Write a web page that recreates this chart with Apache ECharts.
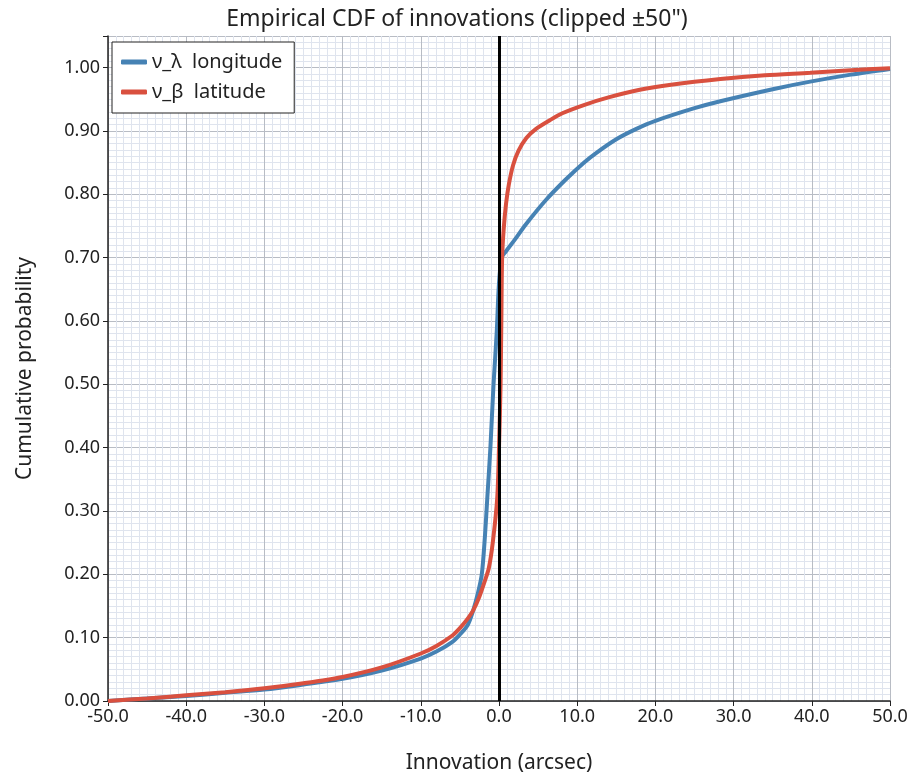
<!DOCTYPE html>
<html>
<head>
<meta charset="utf-8">
<script src="https://cdn.jsdelivr.net/npm/echarts@6/dist/echarts.min.js"></script>
<style>
  html, body { margin: 0; padding: 0; background: #fff; }
  #chart { width: 914px; height: 779px; }
</style>
</head>
<body>
<div id="chart"></div>
<script>
// Empirical CDF of longitude / latitude innovations (arcsec)
const longX = [-50, -45, -40, -35, -30, -25, -20, -15, -10, -8, -6, -5, -4, -3.3, -2.7, -2.2, -1.8, -1.5, -1.1, -0.7, -0.3, 0, 0.35, 0.83, 2, 3.4, 6, 8.5, 10.85, 12.5, 15, 17.5, 20, 25, 28.3, 35, 39.8, 45, 50];
const longP = [0, 0.004, 0.008, 0.013, 0.018, 0.026, 0.035, 0.048, 0.067, 0.078, 0.093, 0.105, 0.12, 0.143, 0.17, 0.2, 0.26, 0.32, 0.4, 0.5, 0.58, 0.66, 0.70, 0.709, 0.728, 0.752, 0.791, 0.823, 0.850, 0.866, 0.887, 0.903, 0.916, 0.936, 0.947, 0.966, 0.978, 0.989, 0.998];

const latX = [-50, -45, -40, -35, -30, -25, -20, -15, -10, -8, -6, -5, -4, -3.3, -2.5, -1.8, -1.3, -0.8, -0.23, 0, 0.2, 0.3, 0.4, 0.6, 0.9, 1.25, 1.8, 2.5, 3.5, 4.7, 6.5, 8.1, 10.85, 14, 18, 22, 28.3, 34, 39.8, 45, 50];
const latP = [0, 0.004, 0.009, 0.014, 0.02, 0.028, 0.038, 0.053, 0.075, 0.087, 0.103, 0.115, 0.13, 0.143, 0.165, 0.19, 0.21, 0.25, 0.32, 0.40, 0.50, 0.60, 0.70, 0.745, 0.785, 0.815, 0.846, 0.869, 0.889, 0.903, 0.917, 0.928, 0.941, 0.953, 0.965, 0.973, 0.982, 0.988, 0.992, 0.996, 0.999];

const seriesNames = ['ν_λ  longitude', 'ν_β  latitude'];
const seriesColors = ['#4682b4', '#d9503f'];

const FONT = '"Noto Sans", "Open Sans", sans-serif';

const zip = (xs, ys) => xs.map((x, i) => [x, ys[i]]);

const chart = echarts.init(document.getElementById('chart'), null, { renderer: 'canvas' });

chart.setOption({
  animation: false,
  backgroundColor: '#ffffff',
  textStyle: { fontFamily: FONT },
  title: {
    text: 'Empirical CDF of innovations (clipped ±50")',
    left: 'center',
    top: 3,
    textStyle: { fontFamily: FONT, fontSize: 23, fontWeight: 'normal', color: '#222' }
  },
  legend: {
    left: 112,
    top: 42,
    orient: 'vertical',
    backgroundColor: '#ffffff',
    borderColor: '#222',
    borderWidth: 1,
    borderRadius: 0,
    padding: [10, 12, 11, 9],
    itemGap: 10,
    itemWidth: 26,
    itemHeight: 5,
    icon: 'roundRect',
    textStyle: { fontFamily: FONT, fontSize: 20, color: '#222' },
    data: seriesNames
  },
  grid: { left: 108, right: 24, top: 36, bottom: 75, containLabel: false },
  xAxis: {
    type: 'value',
    min: -50,
    max: 50,
    interval: 10,
    name: 'Innovation (arcsec)',
    nameLocation: 'middle',
    nameGap: 52,
    nameTextStyle: { fontFamily: FONT, fontSize: 21, color: '#222' },
    axisLine: { onZero: false, lineStyle: { color: '#222', width: 1.5 } },
    axisTick: { show: true, length: 5, lineStyle: { color: '#222' } },
    axisLabel: { fontFamily: FONT, fontSize: 18, color: '#222', margin: 7, formatter: v => v.toFixed(1) },
    splitLine: { show: true, lineStyle: { color: '#b8bcc4', width: 1 } },
    minorTick: { show: false, splitNumber: 10 },
    minorSplitLine: { show: true, lineStyle: { color: '#dfe4ee', width: 1 } }
  },
  yAxis: {
    type: 'value',
    min: 0,
    max: 1.05,
    interval: 0.1,
    name: 'Cumulative probability',
    nameLocation: 'middle',
    nameGap: 72,
    nameTextStyle: { fontFamily: FONT, fontSize: 21, color: '#222' },
    axisLine: { show: true, onZero: false, lineStyle: { color: '#222', width: 1.5 } },
    axisTick: { show: true, length: 5, lineStyle: { color: '#222' } },
    axisLabel: {
      fontFamily: FONT, fontSize: 18, color: '#222', margin: 8,
      formatter: v => (v > 1.001 ? '' : v.toFixed(2))
    },
    splitLine: { show: true, lineStyle: { color: '#b8bcc4', width: 1 } },
    minorTick: { show: false, splitNumber: 10 },
    minorSplitLine: { show: true, lineStyle: { color: '#dfe4ee', width: 1 } }
  },
  series: [
    {
      name: seriesNames[0],
      type: 'line',
      data: zip(longX, longP),
      smooth: 0.3,
      showSymbol: false,
      color: seriesColors[0],
      lineStyle: { width: 4, color: seriesColors[0] },
      z: 3,
      markLine: {
        silent: true,
        symbol: 'none',
        label: { show: false },
        lineStyle: { color: '#000', width: 3, type: 'solid' },
        data: [{ xAxis: 0 }]
      }
    },
    {
      name: seriesNames[1],
      type: 'line',
      data: zip(latX, latP),
      smooth: 0.3,
      showSymbol: false,
      color: seriesColors[1],
      lineStyle: { width: 4, color: seriesColors[1] },
      z: 4
    }
  ]
});
</script>
</body>
</html>
